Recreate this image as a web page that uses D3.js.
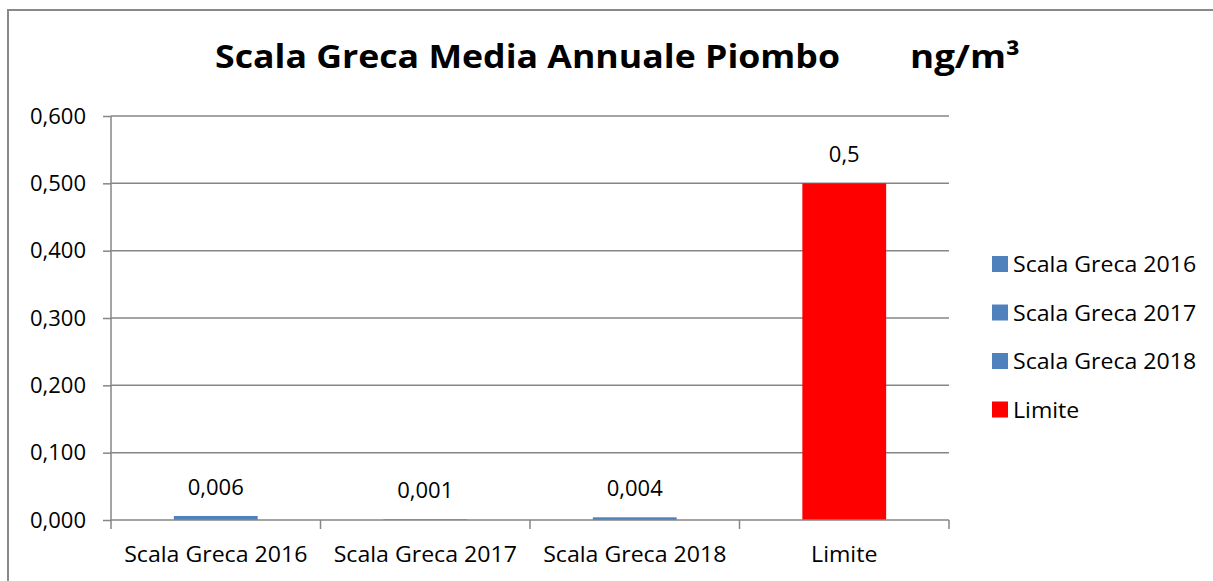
<!DOCTYPE html>
<html>
<head>
<meta charset="utf-8">
<script src="https://cdn.jsdelivr.net/npm/d3@7"></script>
<style>
  body { margin: 0; background: #fff; }
  svg { display: block; font-family: "Open Sans", sans-serif; }
</style>
</head>
<body>
<svg></svg>
<script>
// chart data
const categories = ["Scala Greca 2016", "Scala Greca 2017", "Scala Greca 2018", "Limite"];
const values = [0.006, 0.001, 0.004, 0.5];
const valueLabels = ["0,006", "0,001", "0,004", "0,5"];
const barColors = ["#4F81BD", "#4F81BD", "#4F81BD", "#FF0000"];
const yTicks = [0, 0.1, 0.2, 0.3, 0.4, 0.5, 0.6];

const svgWidth = 1213, svgHeight = 581;
const margin = { top: 116, right: 264, bottom: 61, left: 111 };
const width = svgWidth - margin.left - margin.right;
const height = svgHeight - margin.top - margin.bottom;
const fontSize = 22;

const svg = d3.select("svg")
    .attr("width", svgWidth)
    .attr("height", svgHeight);

// stretch a label a bit, Calibri in the original runs wider
function widen(sel) {
    sel.each(function() {
        const w = this.getComputedTextLength();
        d3.select(this).attr("textLength", w * 1.05).attr("lengthAdjust", "spacingAndGlyphs");
    });
}

// outer frame (only top and left visible)
svg.append("path")
    .attr("d", "M8,581 L8,10 L1213,10")
    .attr("fill", "none")
    .attr("stroke", "#898989")
    .attr("stroke-width", 2);

// title, two pieces because of the wide gap
svg.append("text")
    .attr("x", 215)
    .attr("y", 68)
    .attr("font-size", 33)
    .attr("font-weight", "bold")
    .attr("textLength", 625)
    .attr("lengthAdjust", "spacingAndGlyphs")
    .text("Scala Greca Media Annuale Piombo");

svg.append("text")
    .attr("x", 910)
    .attr("y", 68)
    .attr("font-size", 33)
    .attr("font-weight", "bold")
    .attr("textLength", 110)
    .attr("lengthAdjust", "spacingAndGlyphs")
    .text("ng/m³");

const g = svg.append("g")
    .attr("transform", "translate(" + margin.left + "," + margin.top + ")");

const x = d3.scaleBand().domain(categories).range([0, width]);
const y = d3.scaleLinear().domain([0, 0.6]).range([height, 0]);

const fmt = function(d) { return d3.format(".3f")(d).replace(".", ","); };

// y axis
const yAxis = g.append("g")
    .call(d3.axisLeft(y).tickValues(yTicks).tickFormat(fmt).tickSize(8).tickPadding(17));
yAxis.selectAll(".tick line").attr("stroke", "#868686").attr("stroke-width", 1.5);
yAxis.select(".domain").attr("stroke", "#868686").attr("stroke-width", 1.5).attr("d", "M0," + height + "V0");
yAxis.selectAll(".tick text").attr("font-size", fontSize).attr("fill", "#000").attr("font-family", "Open Sans, sans-serif");

// gridlines
g.append("g")
    .selectAll("line")
    .data(yTicks.slice(1))
    .join("line")
    .attr("x1", 0)
    .attr("x2", width)
    .attr("y1", function(d) { return y(d); })
    .attr("y2", function(d) { return y(d); })
    .attr("stroke", "#868686")
    .attr("stroke-width", 1.5);

// bars
const barW = x.bandwidth() * 0.4;
g.selectAll(".bar")
    .data(values)
    .join("rect")
    .attr("class", "bar")
    .attr("x", function(d, i) { return x(categories[i]) + (x.bandwidth() - barW) / 2; })
    .attr("y", function(d) { return y(d); })
    .attr("width", barW)
    .attr("height", function(d) { return height - y(d); })
    .attr("fill", function(d, i) { return barColors[i]; });

g.selectAll(".vlabel")
    .data(values)
    .join("text")
    .attr("class", "vlabel")
    .attr("x", function(d, i) { return x(categories[i]) + x.bandwidth() / 2; })
    .attr("y", function(d) { return y(d) - 21; })
    .attr("text-anchor", "middle")
    .attr("font-size", fontSize)
    .text(function(d, i) { return valueLabels[i]; });

// x axis
const xAxis = g.append("g")
    .attr("transform", "translate(0," + height + ")")
    .call(d3.axisBottom(x).tickSize(0).tickPadding(26));
xAxis.select(".domain").attr("stroke", "#868686").attr("stroke-width", 1.5).attr("d", "M0,0H" + width);
xAxis.selectAll(".tick text").attr("font-size", fontSize).attr("fill", "#000").attr("font-family", "Open Sans, sans-serif")
    .call(widen);

g.append("g")
    .attr("transform", "translate(0," + height + ")")
    .selectAll("line")
    .data(d3.range(categories.length + 1))
    .join("line")
    .attr("x1", function(i) { return i * x.step(); })
    .attr("x2", function(i) { return i * x.step(); })
    .attr("y1", 0)
    .attr("y2", 9)
    .attr("stroke", "#868686")
    .attr("stroke-width", 1.5);

// legend
const legend = svg.append("g")
    .selectAll("g")
    .data(categories)
    .join("g")
    .attr("transform", function(d, i) { return "translate(992," + (264 + i * 48.5) + ")"; });

legend.append("rect")
    .attr("y", -8)
    .attr("width", 16)
    .attr("height", 16)
    .attr("fill", function(d, i) { return barColors[i]; });

legend.append("text")
    .attr("x", 21)
    .attr("y", 8)
    .attr("font-size", fontSize)
    .text(function(d) { return d; })
    .call(widen);
</script>
</body>
</html>
